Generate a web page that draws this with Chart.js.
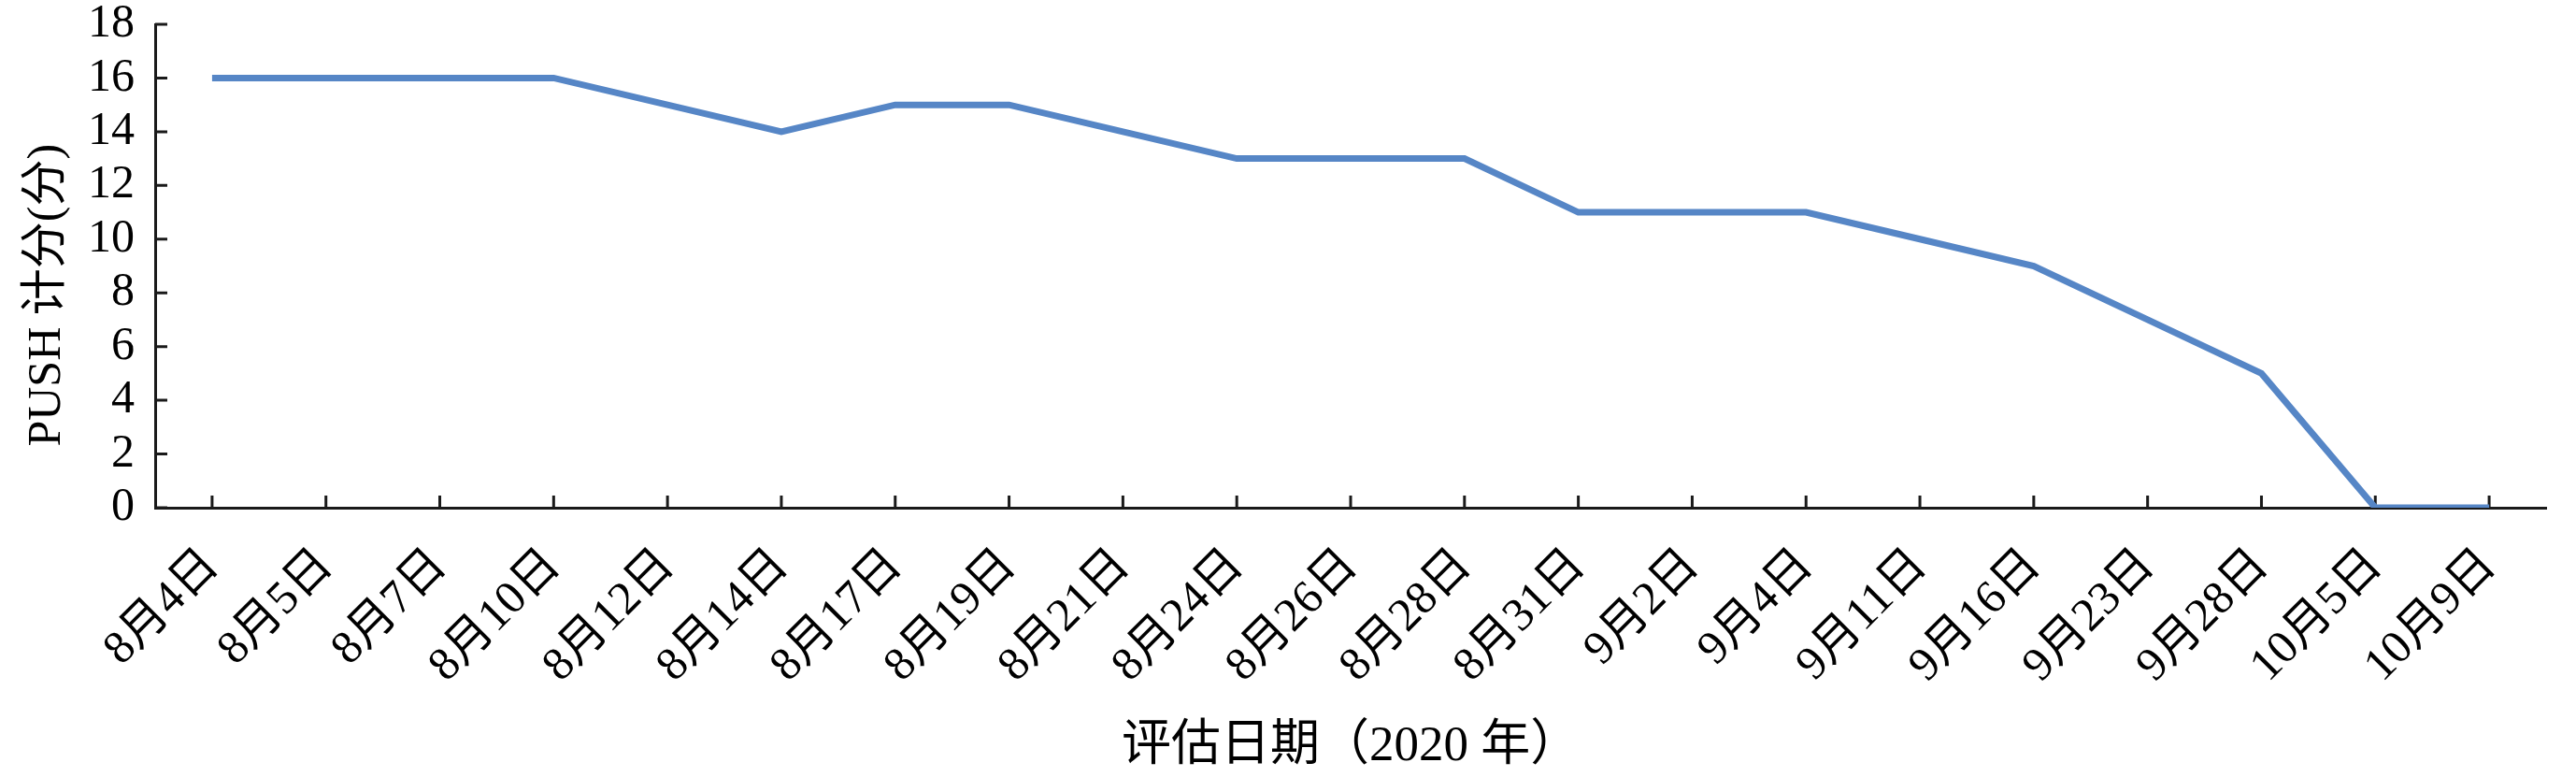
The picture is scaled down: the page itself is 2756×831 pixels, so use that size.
<!DOCTYPE html>
<html>
<head>
<meta charset="utf-8">
<script src="https://cdn.jsdelivr.net/npm/chart.js@4"></script>
<style>
    html, body { margin: 0; padding: 0; background: #fff; }
    #wrap { width: 2756px; height: 831px; }
</style>
</head>
<body>
<div id="wrap"><canvas id="pushChart" width="2756" height="831"></canvas></div>
<script>
// dates of assessment and PUSH scores
const dates = ['8月4日', '8月5日', '8月7日', '8月10日', '8月12日', '8月14日', '8月17日', '8月19日', '8月21日', '8月24日', '8月26日',
    '8月28日', '8月31日', '9月2日', '9月4日', '9月11日', '9月16日', '9月23日', '9月28日', '10月5日', '10月9日'];
const scores = [16, 16, 16, 16, 15, 14, 15, 15, 14, 13, 13, 13, 11, 11, 11, 10, 9, 7, 5, 0, 0];
const yTicks = [0, 2, 4, 6, 8, 10, 12, 14, 16, 18];

const xTitle = '评估日期（2020 年）';
// trailing blanks push the rotated title a little lower, like the original
const yTitle = 'PUSH 计分(分)\u00a0\u00a0\u00a0\u00a0\u00a0';

Chart.defaults.font.family = "'Liberation Serif', 'Noto Sans CJK SC', serif";
Chart.defaults.color = '#000';

// tick marks point into the plot area
const innerTicks = {
    id: 'innerTicks',
    beforeDatasetsDraw(chart) {
        const ctx = chart.ctx;
        const area = chart.chartArea;
        const xs = chart.scales.x;
        const ys = chart.scales.y;
        ctx.save();
        ctx.strokeStyle = '#1a1a1a';
        ctx.lineWidth = 3;
        ctx.beginPath();
        xs.ticks.forEach((t, i) => {
            const px = xs.getPixelForTick(i);
            ctx.moveTo(px, area.bottom);
            ctx.lineTo(px, area.bottom - 13);
        });
        ys.ticks.forEach((t, i) => {
            const py = ys.getPixelForTick(i);
            ctx.moveTo(area.left, py);
            ctx.lineTo(area.left + 13, py);
        });
        ctx.stroke();
        ctx.restore();
    }
};

new Chart(document.getElementById('pushChart'), {
    type: 'line',
    data: {
        labels: dates,
        datasets: [{
            data: scores,
            borderColor: '#5686c6',
            borderWidth: 7,
            pointRadius: 0,
            tension: 0,
            fill: false
        }]
    },
    options: {
        responsive: false,
        animation: false,
        devicePixelRatio: 1,
        layout: { padding: { top: 26, right: 32, bottom: 0, left: 0 } },
        plugins: {
            legend: { display: false },
            tooltip: { enabled: false }
        },
        scales: {
            x: {
                offset: true,
                grid: { drawOnChartArea: false, drawTicks: false },
                border: { display: true, color: '#1a1a1a', width: 3 },
                ticks: {
                    autoSkip: false,
                    minRotation: 45,
                    maxRotation: 45,
                    padding: 33,
                    font: { size: 50 }
                },
                title: {
                    display: true,
                    text: xTitle,
                    font: { size: 53 },
                    padding: { top: 0, bottom: 0 }
                },
                afterFit(scale) {
                    scale.height = 288;
                    scale.paddingLeft = 0;
                    scale.paddingRight = 0;
                }
            },
            y: {
                min: 0,
                max: 18,
                grid: { drawOnChartArea: false, drawTicks: false },
                border: { display: true, color: '#1a1a1a', width: 3 },
                afterBuildTicks(scale) { scale.ticks = yTicks.map(v => ({ value: v })); },
                ticks: {
                    autoSkip: false,
                    padding: 22,
                    font: { size: 50 }
                },
                title: {
                    display: true,
                    text: yTitle,
                    font: { size: 50 },
                    padding: { top: 21, bottom: 0 }
                },
                afterFit(scale) {
                    scale.width = 166;
                    scale.paddingTop = 0;
                    scale.paddingBottom = 0;
                }
            }
        }
    },
    plugins: [innerTicks]
});
</script>
</body>
</html>
